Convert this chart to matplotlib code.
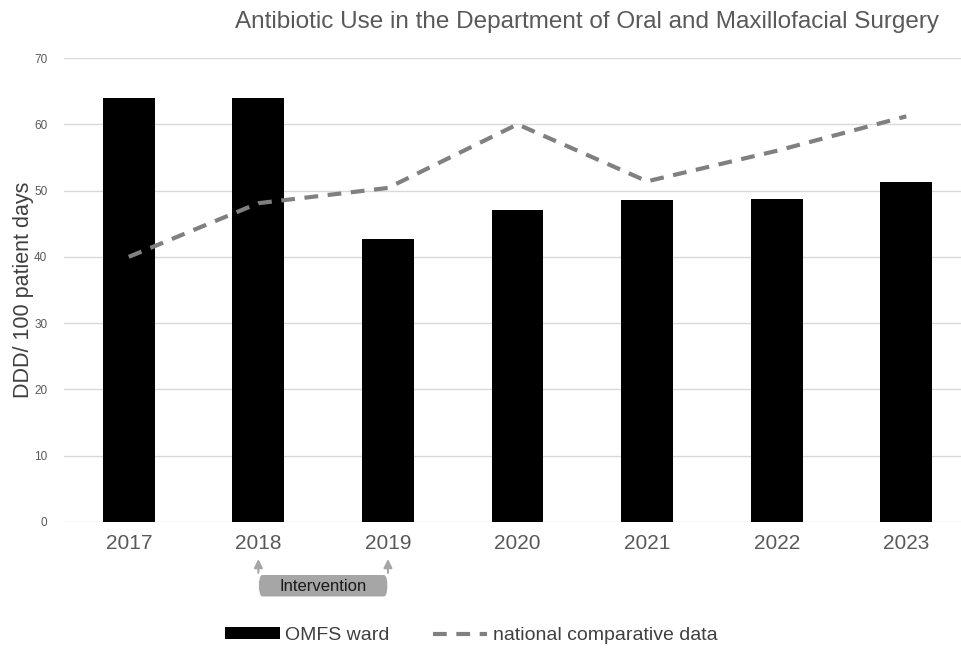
import numpy as np
import matplotlib
matplotlib.use('Agg')
import matplotlib.pyplot as plt
from matplotlib.patches import FancyBboxPatch
from matplotlib.transforms import blended_transform_factory

plt.rcParams['font.family'] = ['Liberation Sans', 'DejaVu Sans']

# data
years = ['2017', '2018', '2019', '2020', '2021', '2022', '2023']
omfs_ward = [63.9, 63.9, 42.7, 47.1, 48.6, 48.7, 51.3]
national = [40.0, 48.1, 50.4, 60.0, 51.4, 56.0, 61.2]

fig = plt.figure(figsize=(9.62, 6.49), dpi=100)
ax = fig.add_axes([64 / 962, 0.1957, 1 - 64 / 962, 0.7149])

x = np.arange(len(years))
bars = ax.bar(x, omfs_ward, width=0.4, color='black', zorder=3, label='OMFS ward')
line, = ax.plot(x, national, color='#808080', lw=3, ls=(0, (3.3, 2.3)),
                zorder=4, label='national comparative data')

ax.set_xlim(-0.5, 6.43)
ax.set_ylim(0, 70)
ax.set_yticks(np.arange(0, 71, 10))
ax.yaxis.grid(True, color='#d9d9d9', lw=1, zorder=0)
for s in ['top', 'right', 'left', 'bottom']:
    ax.spines[s].set_visible(False)
ax.tick_params(axis='y', length=0, labelsize=8.5, labelcolor='#595959', pad=12)
ax.tick_params(axis='x', length=0, labelsize=15, labelcolor='#595959', pad=9)
ax.set_xticks(x)
ax.set_xticklabels(years)
ax.set_ylabel('DDD/ 100 patient days', fontsize=15.5, color='#404040', labelpad=0)

fig.text(0.61, 0.966, 'Antibiotic Use in the Department of Oral and Maxillofacial Surgery',
         ha='center', va='center', fontsize=17.5, color='#595959')

# intervention marker
tr = blended_transform_factory(ax.transData, fig.transFigure)
box = FancyBboxPatch((1.0, 0.081), 1.0, 0.033, boxstyle='round,pad=0,rounding_size=0.03',
                     transform=tr, facecolor='#a6a6a6', edgecolor='none', clip_on=False)
fig.patches.append(box)
fig.text(1.5, 0.097, 'Intervention', transform=tr, ha='center', va='center',
         fontsize=12, color='#1a1a1a')
for xi in [1, 2]:
    ax.annotate('', xy=(xi, 0.143), xytext=(xi, 0.113), xycoords=tr, textcoords=tr,
                arrowprops=dict(arrowstyle='-|>,head_width=0.25,head_length=0.5',
                                color='#a6a6a6', lw=1.5))

fig.legend([bars, line], ['OMFS ward', 'national comparative data'],
           loc='center', bbox_to_anchor=(0.49, 0.021), ncol=2, frameon=False,
           fontsize=14, labelcolor='#404040', handlelength=2.8, handleheight=0.5,
           columnspacing=2.2, handletextpad=0.3)

fig.savefig('out.png', dpi=100)
